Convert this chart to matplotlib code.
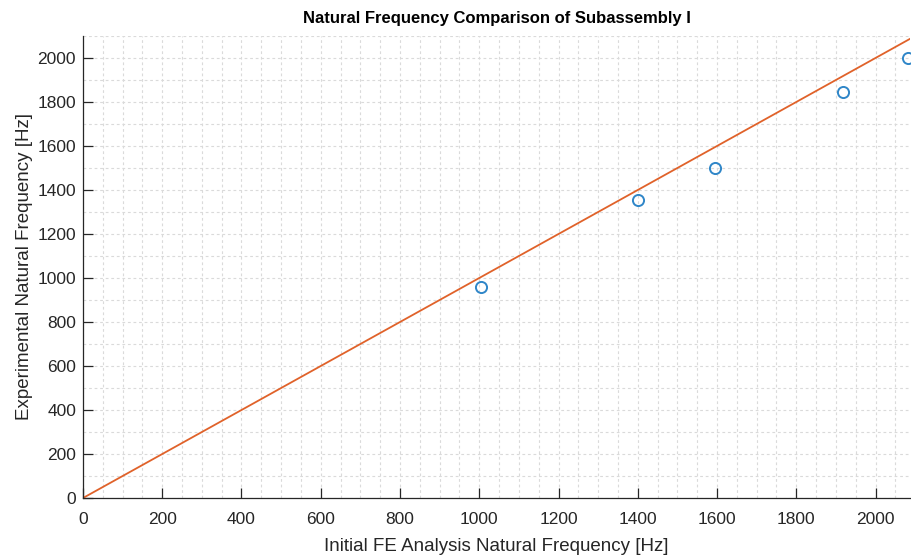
import numpy as np
import matplotlib
matplotlib.use('Agg')
import matplotlib.pyplot as plt
from matplotlib.ticker import MultipleLocator

# measured natural frequencies (Hz)
fe_freq = [1005, 1400, 1594, 1919, 2081]
exp_freq = [961, 1353, 1499, 1845, 2000]

# reference line y = x
ref_line = [0, 2087]

plt.rcParams['font.family'] = ['Liberation Sans', 'DejaVu Sans']

fig = plt.figure(figsize=(9.11, 5.57), dpi=100)
ax = fig.add_axes([0.0911, 0.1059, 0.9078, 0.8295])

ax.plot(fe_freq, exp_freq, 'o', mfc='none', mec='#2f86c8', ms=8, mew=1.4,
        clip_on=False, zorder=3)
ax.plot(ref_line, ref_line, '-', color='#e0622a', lw=1.3, zorder=2)

ax.set_xlim(0, 2087)
ax.set_ylim(0, 2100)

ax.xaxis.set_major_locator(MultipleLocator(200))
ax.yaxis.set_major_locator(MultipleLocator(200))
ax.xaxis.set_minor_locator(MultipleLocator(50))
ax.yaxis.set_minor_locator(MultipleLocator(100))

ax.grid(which='both', color='#dadada', linestyle=(0, (2.5, 2.5)), lw=0.8)
ax.set_axisbelow(True)

for s in ['top', 'right']:
  ax.spines[s].set_visible(False)
for s in ['left', 'bottom']:
  ax.spines[s].set_color('#262626')
  ax.spines[s].set_linewidth(0.9)

ax.tick_params(which='major', direction='in', length=7, width=0.9,
               colors='#262626', labelsize=12.5, pad=5)
ax.tick_params(axis='x', which='major', pad=10)
ax.tick_params(which='minor', length=0)

ax.set_title('Natural Frequency Comparison of Subassembly I',
             fontsize=12, fontweight='bold', pad=9)
ax.set_xlabel('Initial FE Analysis Natural Frequency [Hz]', fontsize=13.5,
              color='#262626', labelpad=8)
ax.set_ylabel('Experimental Natural Frequency [Hz]', fontsize=13.5,
              color='#262626', labelpad=3)

fig.savefig('out.png', dpi=100)
